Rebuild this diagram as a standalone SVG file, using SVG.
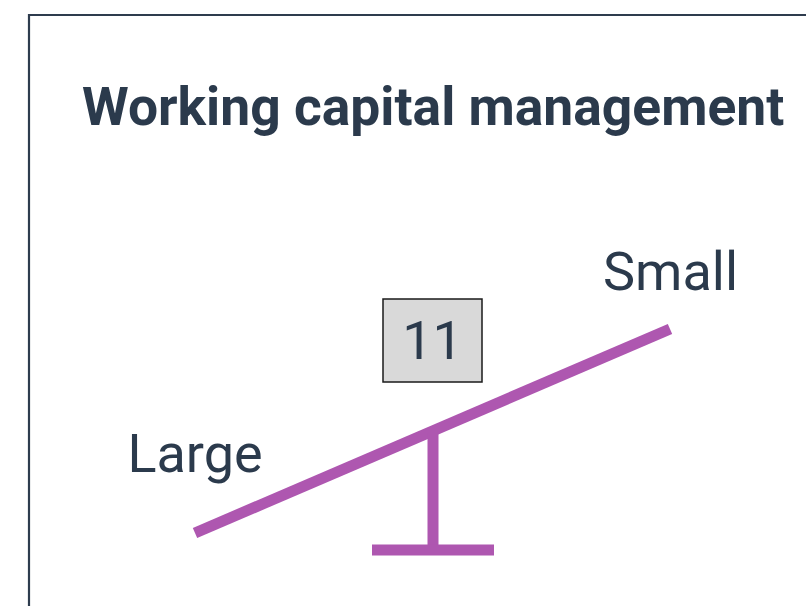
<svg xmlns="http://www.w3.org/2000/svg" width="806" height="606" viewBox="0 0 806 606">
<style>
.t{font-family:Roboto,"Liberation Sans",sans-serif;fill:#2b3a4c}
.p{stroke:#ae57b0;stroke-width:11;fill:none;stroke-linecap:butt}
</style>
<rect x="0" y="0" width="806" height="606" fill="#fff"/>
<path d="M29,606 V15 H806" fill="none" stroke="#2e3c4e" stroke-width="2.2"/>
<text class="t" x="82" y="125" font-size="53.4" font-weight="bold">Working capital management</text>
<g id="connectors">
<line class="p" x1="195" y1="533" x2="670" y2="329"/>
<line class="p" x1="433" y1="433" x2="433" y2="550"/>
<line class="p" x1="372" y1="550" x2="494" y2="550" stroke-width="12"/>
</g>
<g id="box">
<rect x="383" y="299" width="99" height="83" fill="#d9d9d9" stroke="#1a1a1a" stroke-width="1.5"/>
<text class="t" x="432.5" y="359" font-size="54" text-anchor="middle">11</text>
</g>
<g id="small"><text class="t" x="670.5" y="290" font-size="54" text-anchor="middle">Small</text></g>
<g id="large"><text class="t" x="195" y="472" font-size="54" text-anchor="middle">Large</text></g>
</svg>
